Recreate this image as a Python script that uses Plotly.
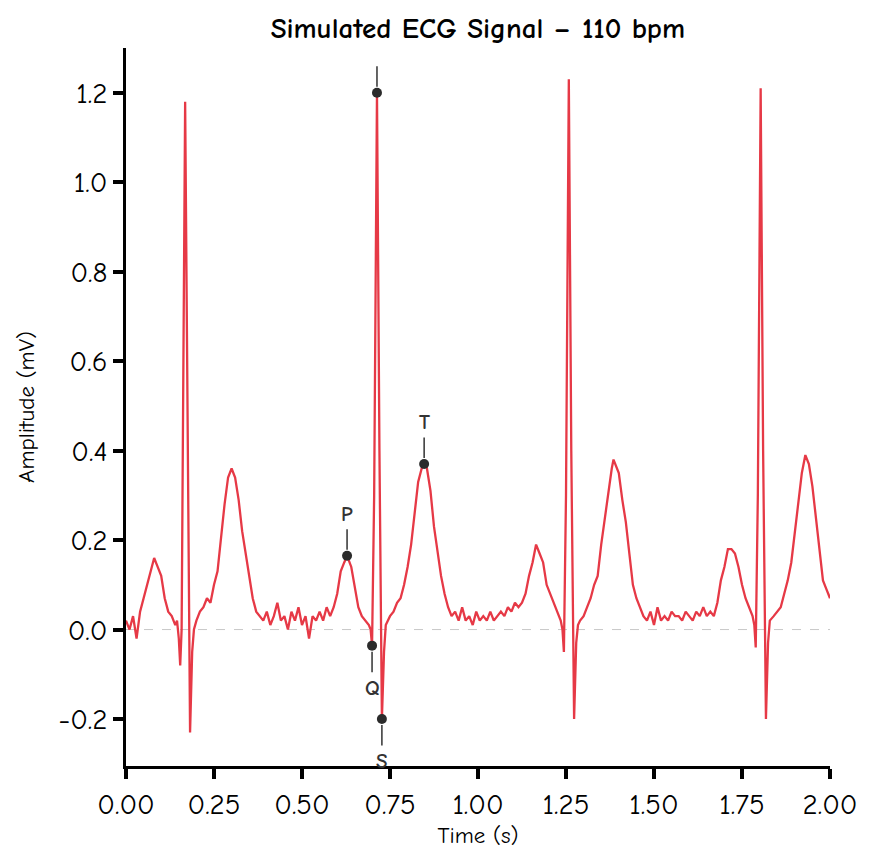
import plotly.graph_objects as go

# ---- data ----
time_s = [
    0.000, 0.010, 0.020, 0.030, 0.040, 0.050, 0.060, 0.070, 0.080, 0.090,
    0.100, 0.110, 0.120, 0.130, 0.140, 0.145,
    0.150, 0.154, 0.158, 0.168, 0.176, 0.182, 0.188, 0.193,
    0.200, 0.210, 0.220, 0.230, 0.240, 0.250, 0.260, 0.270, 0.280, 0.290,
    0.300, 0.310, 0.320, 0.330, 0.340, 0.350, 0.360, 0.370, 0.380,
    0.390, 0.400, 0.410, 0.420, 0.430, 0.440, 0.450, 0.460, 0.470, 0.480,
    0.490, 0.500, 0.510, 0.520, 0.530, 0.540, 0.550, 0.560, 0.570, 0.580,
    0.590, 0.600, 0.610, 0.620, 0.628, 0.640, 0.650, 0.660, 0.670, 0.680, 0.690,
    0.695, 0.699, 0.705, 0.713, 0.720, 0.727, 0.733, 0.738,
    0.750, 0.760, 0.770, 0.780, 0.790, 0.800, 0.810, 0.820, 0.830, 0.840,
    0.847, 0.855, 0.865, 0.875, 0.885, 0.895, 0.905, 0.915, 0.925,
    0.935, 0.945, 0.955, 0.965, 0.975, 0.985, 0.995, 1.005, 1.015, 1.025,
    1.035, 1.045, 1.055, 1.065, 1.075, 1.085, 1.095, 1.105, 1.115,
    1.125, 1.135, 1.145, 1.155, 1.165, 1.175, 1.185, 1.195, 1.205, 1.215,
    1.225, 1.235,
    1.240, 1.244, 1.250, 1.258, 1.265, 1.273, 1.279, 1.284,
    1.290, 1.300, 1.310, 1.320, 1.330, 1.340, 1.350, 1.360, 1.370, 1.380,
    1.385, 1.390, 1.400, 1.410, 1.420, 1.430, 1.440, 1.450, 1.460, 1.470,
    1.480, 1.490, 1.500, 1.510, 1.520, 1.530, 1.540, 1.550, 1.560, 1.570,
    1.580, 1.590, 1.600, 1.610, 1.620, 1.630, 1.640, 1.650, 1.660, 1.670,
    1.680, 1.690, 1.700, 1.710, 1.720, 1.730, 1.740, 1.750, 1.760, 1.770,
    1.780, 1.785,
    1.789, 1.795, 1.803, 1.810, 1.818, 1.824, 1.829,
    1.840, 1.850, 1.860, 1.870, 1.880, 1.890, 1.900, 1.910, 1.920, 1.930,
    1.940, 1.950, 1.960, 1.970, 1.980, 1.990, 2.000,
]

amplitude_mv = [
    0.02, 0.00, 0.03, -0.02, 0.04, 0.07, 0.10, 0.13, 0.16, 0.14,
    0.12, 0.07, 0.04, 0.03, 0.01, 0.02,
    -0.02, -0.08, 0.00, 1.18, 0.40, -0.23, -0.05, 0.00,
    0.02, 0.04, 0.05, 0.07, 0.06, 0.10, 0.13, 0.21, 0.28, 0.34,
    0.36, 0.34, 0.29, 0.22, 0.17, 0.11, 0.07, 0.04, 0.03,
    0.02, 0.04, 0.01, 0.03, 0.06, 0.02, 0.03, 0.00, 0.04, 0.02,
    0.05, 0.01, 0.03, -0.02, 0.03, 0.02, 0.04, 0.02, 0.05, 0.03,
    0.05, 0.08, 0.13, 0.15, 0.165, 0.14, 0.09, 0.05, 0.03, 0.02, 0.01,
    0.00, -0.036, 0.30, 1.20, 0.40, -0.20, -0.05, 0.01,
    0.03, 0.04, 0.06, 0.07, 0.10, 0.14, 0.19, 0.26, 0.33, 0.36,
    0.37, 0.36, 0.31, 0.23, 0.17, 0.12, 0.08, 0.05, 0.03,
    0.04, 0.02, 0.05, 0.02, 0.03, 0.01, 0.04, 0.02, 0.03, 0.02,
    0.04, 0.02, 0.03, 0.04, 0.03, 0.05, 0.04, 0.06, 0.05,
    0.06, 0.08, 0.12, 0.15, 0.19, 0.17, 0.15, 0.10, 0.08, 0.06,
    0.04, 0.02,
    0.00, -0.05, 0.30, 1.23, 0.40, -0.20, -0.03, 0.01,
    0.02, 0.03, 0.05, 0.07, 0.10, 0.12, 0.19, 0.25, 0.30, 0.36,
    0.38, 0.37, 0.35, 0.29, 0.24, 0.17, 0.10, 0.07, 0.05, 0.03,
    0.02, 0.04, 0.01, 0.05, 0.02, 0.03, 0.02, 0.04, 0.03, 0.03,
    0.02, 0.04, 0.03, 0.02, 0.04, 0.03, 0.05, 0.03, 0.04, 0.03,
    0.06, 0.11, 0.14, 0.18, 0.18, 0.17, 0.14, 0.10, 0.07, 0.05,
    0.03, 0.01,
    -0.04, 0.30, 1.21, 0.40, -0.20, -0.03, 0.02,
    0.03, 0.04, 0.05, 0.08, 0.11, 0.15, 0.22, 0.29, 0.35, 0.39,
    0.37, 0.32, 0.25, 0.17, 0.11, 0.09, 0.07,
]

wave_labels = ["P", "Q", "R", "S", "T"]
wave_times = [0.628, 0.699, 0.713, 0.727, 0.847]
wave_values = [0.165, -0.036, 1.20, -0.20, 0.37]
wave_label_above = [True, False, True, False, True]

x_ticks = [0.0, 0.25, 0.5, 0.75, 1.0, 1.25, 1.5, 1.75, 2.0]
y_ticks = [-0.2, 0.0, 0.2, 0.4, 0.6, 0.8, 1.0, 1.2]

FONT = "Comic Sans MS, Comic Neue, Humor Sans, Lato, sans-serif"
RED = "#e63946"

fig = go.Figure()

# zero reference line
fig.add_shape(type="line", xref="x", yref="y", x0=0, x1=2, y0=0, y1=0,
              line=dict(color="#c8c8c8", width=1, dash="dash"), layer="below")

fig.add_trace(go.Scatter(
    x=time_s, y=amplitude_mv, mode="lines",
    line=dict(color=RED, width=2.3), showlegend=False, hoverinfo="skip",
))

fig.add_trace(go.Scatter(
    x=wave_times, y=wave_values, mode="markers",
    marker=dict(color="#2b2b2b", size=10), showlegend=False,
))

for lab, t, v, above in zip(wave_labels, wave_times, wave_values, wave_label_above):
    fig.add_annotation(
        x=t, y=v, xref="x", yref="y",
        text=" " if lab == "R" else f"<b>{lab}</b>",
        showarrow=True, arrowhead=0, arrowwidth=1.5, arrowcolor="#333333",
        ax=0, ay=-42 if above else 42,
        standoff=6, startstandoff=2,
        font=dict(family=FONT, size=21, color="#333333"),
    )

fig.update_layout(
    width=875, height=867,
    margin=dict(l=118, r=53, t=40, b=109),
    plot_bgcolor="white", paper_bgcolor="white",
    title=dict(text="<b>Simulated ECG Signal – 110 bpm</b>", x=0.537, xanchor="center",
               y=0.977, yanchor="middle",
               font=dict(family=FONT, size=29, color="black")),
    font=dict(family=FONT, color="black"),
)

fig.update_xaxes(
    range=[0, 2], tickvals=x_ticks, ticktext=[f"{v:.2f}" for v in x_ticks],
    showgrid=False, zeroline=False, showline=True, linecolor="black", linewidth=2.5,
    ticks="outside", ticklen=10, tickwidth=4, tickcolor="black",
    tickfont=dict(family=FONT, size=29, color="black"),
    title=dict(text="Time (s)", font=dict(family=FONT, size=23, color="black"), standoff=8),
)
fig.update_yaxes(
    range=[-0.305, 1.3], tickvals=y_ticks, ticktext=[f"{v:.1f}" for v in y_ticks],
    showgrid=False, zeroline=False, showline=True, linecolor="black", linewidth=2.5,
    ticks="outside", ticklen=10, tickwidth=4, tickcolor="black",
    tickfont=dict(family=FONT, size=29, color="black"),
    title=dict(text="Amplitude (mV)", font=dict(family=FONT, size=23, color="black"), standoff=18),
)

fig.write_html("out.html")
